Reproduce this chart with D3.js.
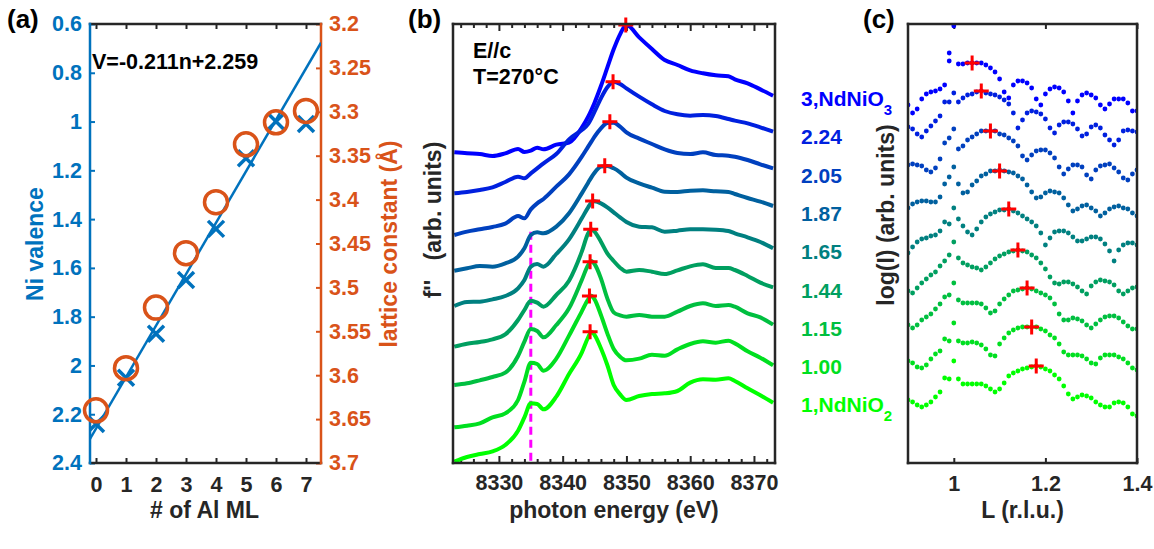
<!DOCTYPE html>
<html lang="en">
<head>
<meta charset="utf-8">
<script src="https://d3js.org/d3.v7.min.js"></script>
<style>
body { margin: 0; background: #fff; }
text { font-family: "Liberation Sans", Arial, Helvetica, sans-serif; font-weight: bold; }
</style>
</head>
<body>
<script>

// ---------- data: panel (a) ----------
var nAl = [0, 1, 2, 3, 4, 5, 6, 7];
var valence = [2.24, 2.05, 1.87, 1.65, 1.44, 1.15, 1.00, 1.01];
var lattice = [3.640, 3.592, 3.523, 3.461, 3.403, 3.337, 3.312, 3.299];
var fitSlope = -0.211, fitIntercept = 2.259;
var valenceTicks = [0.6, 0.8, 1, 1.2, 1.4, 1.6, 1.8, 2, 2.2, 2.4];
var latticeTicks = [3.2, 3.25, 3.3, 3.35, 3.4, 3.45, 3.5, 3.55, 3.6, 3.65, 3.7];

// ---------- data: panel (b), f'' spectra (arb. units), top (blue) to bottom (green) ----------
var energy = [8323, 8325, 8327, 8329, 8331, 8333, 8334, 8335, 8336, 8337, 8339, 8341, 8343, 8344, 8344.5,
              8345, 8346, 8347, 8348, 8349, 8350, 8352, 8354, 8356, 8358, 8360, 8362, 8364, 8366, 8367,
              8369, 8371, 8373];
var spec1 = [932, 929, 927, 921, 929, 942, 933, 937, 946, 941, 955, 961, 1006, 1039, 1059, 1081, 1131, 1186, 1241, 1286, 1314, 1277, 1242, 1209, 1194, 1178, 1169, 1163, 1160, 1151, 1139, 1121, 1102];
var spec2 = [809, 813, 819, 827, 843, 859, 854, 869, 884, 899, 927, 971, 999, 1017, 1034, 1054, 1094, 1127, 1144, 1137, 1124, 1099, 1076, 1056, 1046, 1042, 1044, 1041, 1032, 1027, 1019, 1007, 994];
var spec3 = [684, 694, 701, 708, 718, 741, 734, 761, 779, 792, 829, 866, 919, 949, 964, 979, 1004, 1020, 1021, 1009, 992, 973, 957, 941, 930, 927, 932, 924, 922, 919, 909, 896, 884];
var spec4 = [577, 584, 591, 589, 599, 619, 644, 684, 692, 689, 709, 749, 809, 841, 857, 871, 889, 891, 884, 872, 856, 839, 826, 814, 813, 817, 818, 815, 813, 807, 795, 784, 771];
var spec5 = [471, 483, 484, 491, 501, 524, 549, 589, 597, 589, 627, 671, 734, 767, 781, 785, 779, 767, 752, 737, 723, 709, 707, 694, 697, 701, 701, 700, 696, 689, 677, 663, 644];
var spec6 = [349, 358, 363, 371, 386, 429, 459, 487, 481, 469, 504, 547, 634, 689, 701, 694, 664, 629, 606, 586, 574, 579, 574, 567, 578, 590, 596, 585, 585, 579, 561, 541, 527];
var spec7 = [234, 239, 248, 258, 271, 321, 364, 402, 396, 377, 414, 464, 549, 594, 606, 597, 554, 494, 452, 443, 439, 444, 439, 439, 454, 471, 479, 471, 474, 469, 449, 437, 415];
var spec8 = [107, 112, 119, 137, 149, 189, 244, 301, 297, 277, 313, 382, 455, 491, 502, 491, 444, 389, 342, 319, 308, 313, 325, 322, 341, 357, 365, 361, 367, 359, 335, 316, 293];
var spec9 = [4, 18, 27, 35, 54, 97, 137, 179, 177, 161, 199, 267, 331, 377, 394, 384, 344, 294, 234, 206, 189, 201, 207, 209, 216, 241, 251, 250, 254, 246, 224, 203, 181];
var spectra = [spec1, spec2, spec3, spec4, spec5, spec6, spec7, spec8, spec9];
var peakE = [8349.9, 8347.9, 8347.4, 8346.6, 8344.7, 8344.4, 8344.3, 8344.2, 8344.3];
var peakV = [1314, 1144, 1024, 892, 786, 701, 604, 501, 394];
var shoulderE = 8335, shoulderTop = 694;
var energyMajor = [8330, 8340, 8350, 8360, 8370];
var energyMinor = [8324, 8326, 8328, 8332, 8334, 8336, 8338, 8342, 8344, 8346, 8348, 8352, 8354, 8356, 8358, 8362, 8364, 8366, 8368, 8372];

// ---------- data: panel (c), log(I) vs L (arb. units) ----------
var Lval = [0.90, 0.91, 0.92, 0.93, 0.94, 0.95, 0.96, 0.97, 0.98, 0.99,
            1.00, 1.01, 1.02, 1.03, 1.04, 1.05, 1.06, 1.07, 1.08, 1.09,
            1.10, 1.11, 1.12, 1.13, 1.14, 1.15, 1.16, 1.17, 1.18, 1.19,
            1.20, 1.21, 1.22, 1.23, 1.24, 1.25, 1.26, 1.27, 1.28, 1.29,
            1.30, 1.31, 1.32, 1.33, 1.34, 1.35, 1.36, 1.37, 1.38, 1.39, 1.40];
var xrd1 = [358, 350, 354, 364, 369, 371, 372, 374, 378, 402, 437, 399, 399, 400, 400, 400, 400, 398, 395, 391, 384, 371, 365, 378, 382, 382, 380, 375, 364, 358, 369, 374, 376, 375, 371, 362, 350, 362, 368, 370, 368, 365, 358, 354, 359, 364, 364, 364, 360, 352, 352];
var xrd2 = [336, 334, 329, 326, 332, 337, 342, 347, 361, 361, 370, 361, 365, 368, 369, 371, 372, 370, 369, 368, 366, 363, 359, 350, 335, 343, 350, 352, 351, 349, 344, 335, 330, 338, 341, 341, 339, 334, 327, 329, 336, 338, 335, 328, 323, 318, 323, 332, 333, 332, 331];
var xrd3 = [298, 299, 298, 297, 293, 291, 295, 304, 320, 325, 334, 314, 317, 323, 326, 329, 332, 332, 332, 332, 329, 328, 325, 322, 317, 307, 303, 308, 312, 313, 313, 310, 305, 296, 289, 294, 298, 298, 296, 288, 284, 293, 297, 298, 299, 295, 291, 285, 283, 289, 293];
var xrd4 = [255, 259, 261, 262, 262, 261, 261, 266, 279, 286, 296, 279, 270, 271, 278, 282, 287, 289, 292, 292, 293, 292, 291, 290, 287, 284, 278, 271, 265, 266, 270, 272, 271, 270, 265, 258, 252, 254, 257, 258, 255, 252, 247, 250, 254, 256, 257, 255, 254, 250, 247];
var xrd5 = [210, 216, 221, 224, 225, 227, 228, 232, 241, 239, 255, 244, 237, 231, 228, 234, 241, 246, 249, 251, 253, 253, 254, 252, 250, 247, 244, 241, 237, 230, 218, 225, 231, 232, 232, 230, 226, 222, 222, 224, 226, 226, 224, 219, 212, 202, 213, 218, 220, 220, 218];
var xrd6 = [172, 170, 175, 180, 184, 188, 191, 197, 202, 208, 221, 205, 200, 198, 196, 195, 193, 196, 200, 204, 207, 209, 211, 212, 213, 212, 211, 208, 205, 200, 194, 186, 180, 179, 181, 181, 179, 176, 172, 169, 177, 181, 183, 182, 181, 178, 172, 169, 172, 175, 176];
var xrd7 = [138, 135, 138, 143, 146, 149, 154, 159, 166, 168, 180, 163, 160, 160, 160, 160, 159, 155, 150, 152, 159, 164, 168, 172, 173, 174, 175, 174, 172, 170, 168, 165, 159, 149, 143, 143, 145, 144, 142, 138, 135, 139, 143, 146, 147, 147, 145, 141, 137, 134, 134];
var xrd8 = [102, 100, 96, 95, 98, 104, 109, 112, 124, 122, 140, 122, 120, 120, 121, 120, 118, 114, 108, 107, 119, 125, 130, 133, 135, 136, 136, 136, 136, 134, 132, 128, 125, 119, 111, 108, 108, 108, 107, 104, 100, 99, 105, 108, 108, 108, 106, 104, 100, 95, 93];
var xrd9 = [63, 61, 58, 56, 58, 61, 66, 71, 85, 84, 102, 84, 79, 79, 79, 79, 79, 77, 74, 71, 74, 80, 87, 90, 92, 94, 95, 96, 97, 96, 94, 92, 88, 84, 77, 69, 64, 66, 68, 67, 65, 61, 58, 56, 56, 60, 61, 60, 56, 49, 47];
var xrd = [xrd1, xrd2, xrd3, xrd4, xrd5, xrd6, xrd7, xrd8, xrd9];
var xrdExtra = [[0, 0.99, 410]];   // second point at L=0.99 on the top curve
var filmL = [1.04, 1.06, 1.08, 1.10, 1.12, 1.14, 1.16, 1.17, 1.18];
var filmV = [400, 372, 332, 292, 254, 213, 175, 136, 97];
var sampleNames = ["3,NdNiO", "2.24", "2.05", "1.87", "1.65", "1.44", "1.15", "1.00", "1,NdNiO"];
var sampleSubs = ["3", "", "", "", "", "", "", "", "2"];
var lTicks = [1, 1.2, 1.4];

var curveColors = ["#0000ff", "#0020df", "#0040bf", "#00609f", "#008080", "#009f60", "#00bf40", "#00df20", "#00ff00"];

// ---------- setup ----------
var BLUE = "#0072BD", ORANGE = "#D95319", AXC = "#262626", RED = "#ff0000";
var tickFont = 21.5, labelFont = 23;

var svg = d3.select("body").append("svg")
    .attr("width", 1154)
    .attr("height", 549);

var defs = svg.append("defs");
function clip(id, p) {
  defs.append("clipPath").attr("id", id)
    .append("rect").attr("x", p.l).attr("y", p.t).attr("width", p.r - p.l).attr("height", p.b - p.t);
}

function styleAxis(g, color) {
  g.select(".domain").remove();
  g.attr("font-family", null).attr("font-size", tickFont).attr("font-weight", "bold");
  g.selectAll(".tick line").attr("stroke", color).attr("stroke-width", 2);
  g.selectAll(".tick text").attr("fill", color);
}

function frameLine(x1, y1, x2, y2, color) {
  svg.append("line").attr("x1", x1).attr("y1", y1).attr("x2", x2).attr("y2", y2)
     .attr("stroke", color).attr("stroke-width", 2.5).attr("stroke-linecap", "square");
}

function vLabel(txt, x, y, color) {
  svg.append("text")
     .attr("transform", "translate(" + x + "," + y + ") rotate(-90)")
     .attr("text-anchor", "middle")
     .attr("font-size", labelFont)
     .attr("fill", color)
     .style("white-space", "pre")
     .text(txt);
}

function hLabel(txt, x, y, color, size, anchor) {
  svg.append("text").attr("x", x).attr("y", y)
     .attr("text-anchor", anchor || "middle")
     .attr("font-size", size)
     .attr("fill", color)
     .text(txt);
}

var fmt = function(d) { return String(+d.toFixed(2)); };

// ================= panel (a) =================
var pa = {l: 90, r: 321, t: 24, b: 463};
clip("clipA", pa);
var xA = d3.scaleLinear().domain([-0.2, 7.5]).range([pa.l, pa.r]);
var yV = d3.scaleLinear().domain([0.6, 2.4]).range([pa.t, pa.b]);
var yLat = d3.scaleLinear().domain([3.2, 3.7]).range([pa.t, pa.b]);

svg.append("g").attr("transform", "translate(0," + pa.b + ")")
   .call(d3.axisBottom(xA).tickValues(nAl).tickSize(-5).tickPadding(13.5).tickFormat(d3.format("d")))
   .call(styleAxis, AXC);
svg.append("g").attr("transform", "translate(0," + pa.t + ")")
   .call(d3.axisTop(xA).tickValues(nAl).tickSize(-5).tickFormat(""))
   .call(styleAxis, AXC);
svg.append("g").attr("transform", "translate(" + pa.l + ",0)")
   .call(d3.axisLeft(yV).tickValues(valenceTicks).tickSize(-5).tickPadding(8).tickFormat(fmt))
   .call(styleAxis, BLUE);
svg.append("g").attr("transform", "translate(" + pa.r + ",0)")
   .call(d3.axisRight(yLat).tickValues(latticeTicks).tickSize(-5).tickPadding(8).tickFormat(fmt))
   .call(styleAxis, ORANGE);

frameLine(pa.l, pa.t, pa.r, pa.t, AXC);
frameLine(pa.l, pa.b, pa.r, pa.b, AXC);
frameLine(pa.l, pa.t, pa.l, pa.b, BLUE);
frameLine(pa.r, pa.t, pa.r, pa.b, ORANGE);

var gA = svg.append("g").attr("clip-path", "url(#clipA)");
var fitN = xA.domain();
gA.append("line")
  .attr("x1", xA(fitN[0])).attr("y1", yV(fitSlope * fitN[0] + fitIntercept))
  .attr("x2", xA(fitN[1])).attr("y2", yV(fitSlope * fitN[1] + fitIntercept))
  .attr("stroke", BLUE).attr("stroke-width", 2.5);

gA.selectAll(".xmark").data(nAl).enter().append("path")
  .attr("class", "xmark")
  .attr("transform", function(d, i) { return "translate(" + xA(d) + "," + yV(valence[i]) + ")"; })
  .attr("d", "M-8,-8L8,8M-8,8L8,-8")
  .attr("stroke", BLUE).attr("stroke-width", 3.5).attr("fill", "none");

svg.selectAll(".omark").data(nAl).enter().append("circle")
  .attr("class", "omark")
  .attr("cx", function(d) { return xA(d); })
  .attr("cy", function(d, i) { return yLat(lattice[i]); })
  .attr("r", 11.5)
  .attr("fill", "none").attr("stroke", ORANGE).attr("stroke-width", 3.5);

hLabel("V=-0.211n+2.259", 92, 69, "#000", 21.5, "start");
hLabel("(a)", 7, 28, "#000", 26, "start");
hLabel("# of Al ML", (pa.l + pa.r) / 2 - 1, 518, AXC, labelFont);
vLabel("Ni valence", 43, 244, BLUE);
vLabel("lattice constant (\u00C5)", 397, 244, ORANGE);

// ================= panel (b) =================
var pb = {l: 453, r: 775, t: 24, b: 463};
clip("clipB", pb);
var xB = d3.scaleLinear().domain([8322.8, 8373.3]).range([pb.l, pb.r]);
var yB = d3.scaleLinear().domain([0, 1317]).range([pb.b, pb.t]);

svg.append("g").attr("transform", "translate(0," + pb.b + ")")
   .call(d3.axisBottom(xB).tickValues(energyMajor).tickSize(-7).tickPadding(12).tickFormat(d3.format("d")))
   .call(styleAxis, AXC);
svg.append("g").attr("transform", "translate(0," + pb.b + ")")
   .call(d3.axisBottom(xB).tickValues(energyMinor).tickSize(-4).tickFormat(""))
   .call(styleAxis, AXC);
svg.append("g").attr("transform", "translate(0," + pb.t + ")")
   .call(d3.axisTop(xB).tickValues(energyMajor).tickSize(-7).tickFormat(""))
   .call(styleAxis, AXC);
svg.append("g").attr("transform", "translate(0," + pb.t + ")")
   .call(d3.axisTop(xB).tickValues(energyMinor).tickSize(-4).tickFormat(""))
   .call(styleAxis, AXC);

var gB = svg.append("g").attr("clip-path", "url(#clipB)");

gB.append("line")
  .attr("x1", xB(shoulderE)).attr("x2", xB(shoulderE))
  .attr("y1", yB(shoulderTop)).attr("y2", yB(0))
  .attr("stroke", "#ff00ff").attr("stroke-width", 3)
  .attr("stroke-dasharray", "8,5");

var lineB = d3.line()
  .x(function(d, i) { return xB(energy[i]); })
  .y(function(d) { return yB(d); })
  .curve(d3.curveMonotoneX);

gB.selectAll(".spec").data(spectra).enter().append("path")
  .attr("class", "spec")
  .attr("d", lineB)
  .attr("fill", "none")
  .attr("stroke", function(d, i) { return curveColors[i]; })
  .attr("stroke-width", 4)
  .attr("stroke-linejoin", "round");

svg.selectAll(".peakB").data(peakE).enter().append("path")
  .attr("class", "peakB")
  .attr("transform", function(d, i) { return "translate(" + xB(d) + "," + yB(peakV[i]) + ")"; })
  .attr("d", "M-7.5,0H7.5M0,-7.5V7.5")
  .attr("stroke", RED).attr("stroke-width", 3);

frameLine(pb.l, pb.t, pb.r, pb.t, AXC);
frameLine(pb.l, pb.b, pb.r, pb.b, AXC);
frameLine(pb.l, pb.t, pb.l, pb.b, AXC);
frameLine(pb.r, pb.t, pb.r, pb.b, AXC);

hLabel("E//c", 473, 58, "#000", 21.5, "start");
hLabel("T=270\u00B0C", 473, 84, "#000", 21.5, "start");
hLabel("(b)", 408, 28, "#000", 26, "start");
hLabel("photon energy (eV)", (pb.l + pb.r) / 2, 518, AXC, labelFont);
vLabel("f''   (arb. units)", 441, 220, AXC);

// ================= panel (c) =================
var pc = {l: 908, r: 1137, t: 24, b: 463};
clip("clipC", pc);
var xC = d3.scaleLinear().domain([0.9, 1.4]).range([pc.l, pc.r]);
var yC = d3.scaleLinear().domain([0, 439]).range([pc.b, pc.t]);

svg.append("g").attr("transform", "translate(0," + pc.b + ")")
   .call(d3.axisBottom(xC).tickValues(lTicks).tickSize(-5).tickPadding(13).tickFormat(fmt))
   .call(styleAxis, AXC);
svg.append("g").attr("transform", "translate(0," + pc.t + ")")
   .call(d3.axisTop(xC).tickValues(lTicks).tickSize(-5).tickFormat(""))
   .call(styleAxis, AXC);

var gC = svg.append("g").attr("clip-path", "url(#clipC)");
xrd.forEach(function(series, k) {
  gC.selectAll(".dot" + k)
    .data(series.map(function(v, i) { return [Lval[i], v]; }).filter(function(p) { return p[1] != null; }))
    .enter().append("circle")
    .attr("cx", function(p) { return xC(p[0]); })
    .attr("cy", function(p) { return yC(p[1]); })
    .attr("r", 2.4)
    .attr("fill", curveColors[k]);
});
gC.selectAll(".extra").data(xrdExtra).enter().append("circle")
  .attr("cx", function(p) { return xC(p[1]); })
  .attr("cy", function(p) { return yC(p[2]); })
  .attr("r", 2.4)
  .attr("fill", function(p) { return curveColors[p[0]]; });

svg.selectAll(".peakC").data(filmL).enter().append("path")
  .attr("class", "peakC")
  .attr("transform", function(d, i) { return "translate(" + xC(d) + "," + yC(filmV[i]) + ")"; })
  .attr("d", "M-7.5,0H7.5M0,-7.5V7.5")
  .attr("stroke", RED).attr("stroke-width", 3);

frameLine(pc.l, pc.t, pc.r, pc.t, AXC);
frameLine(pc.l, pc.b, pc.r, pc.b, AXC);
frameLine(pc.l, pc.t, pc.l, pc.b, AXC);
frameLine(pc.r, pc.t, pc.r, pc.b, AXC);

// sample labels on the left of panel (c)
var labelTop = 106, labelStep = 38.3;
sampleNames.forEach(function(name, i) {
  var t = svg.append("text")
    .attr("x", 801).attr("y", labelTop + i * labelStep)
    .attr("font-size", 21)
    .attr("fill", curveColors[i])
    .text(name);
  if (sampleSubs[i]) {
    t.append("tspan").attr("dy", 9).attr("font-size", 15).text(sampleSubs[i]);
  }
});

hLabel("(c)", 863, 28, "#000", 26, "start");
hLabel("L (r.l.u.)", (pc.l + pc.r) / 2, 518, AXC, labelFont);
vLabel("log(I) (arb. units)", 894, 215, AXC);

</script>
</body>
</html>
